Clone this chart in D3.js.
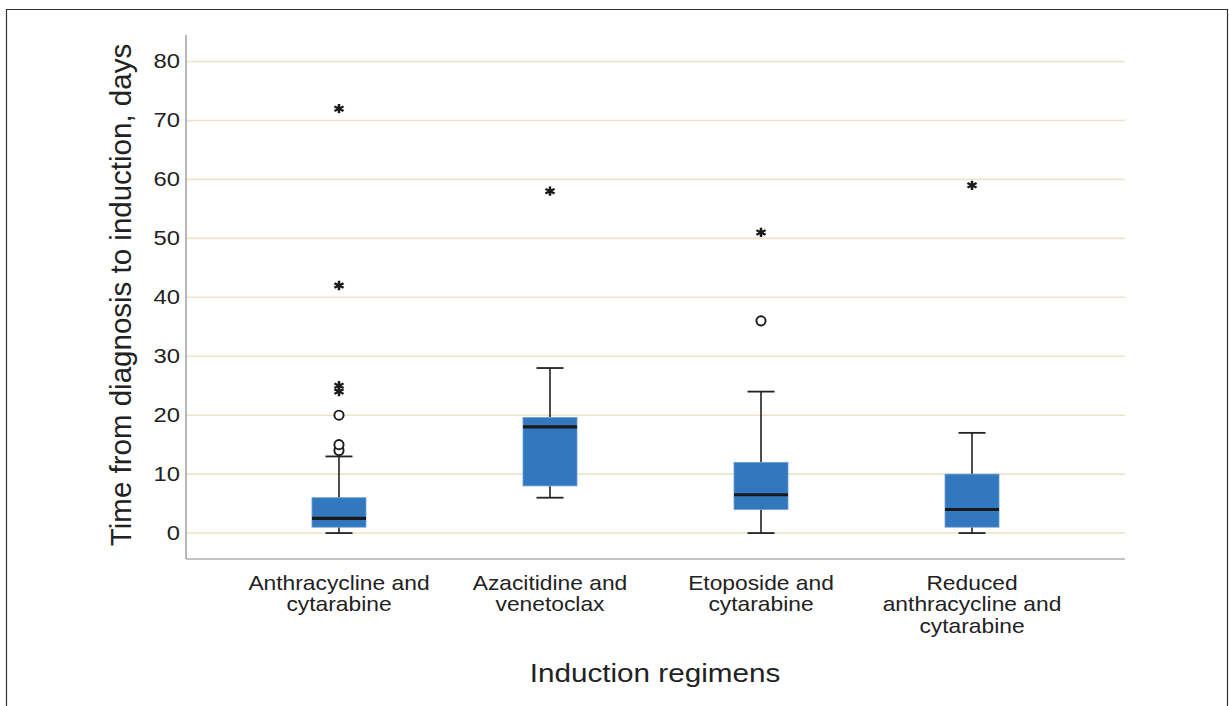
<!DOCTYPE html>
<html>
<head>
<meta charset="utf-8">
<script src="https://cdn.jsdelivr.net/npm/d3@7/dist/d3.min.js"></script>
<style>
  html, body { margin: 0; padding: 0; background: #fff; }
  svg { display: block; font-family: "Liberation Sans", Arial, sans-serif; }
</style>
</head>
<body>
<svg id="chart" width="1229" height="706"></svg>
<script>
// Induction regimens (x categories), each label split into lines
const categories = ["Anthracycline and cytarabine", "Azacitidine and venetoclax", "Etoposide and cytarabine", "Reduced anthracycline and cytarabine"];
const categoryLines = [
  ["Anthracycline and", "cytarabine"],
  ["Azacitidine and", "venetoclax"],
  ["Etoposide and", "cytarabine"],
  ["Reduced", "anthracycline and", "cytarabine"]
];

// Box statistics per regimen (days)
const whiskerLow  = [0, 6, 0, 0];
const q1          = [1, 8, 4, 1];
const median      = [2.5, 18, 6.5, 4];
const q3          = [6, 19.6, 12, 10];
const whiskerHigh = [13, 28, 24, 17];

// Outliers (circles) and extreme values (asterisks)
const outliers = [[14, 15, 20], [], [36], []];
const extremes = [[24, 25, 42, 72], [58], [51], [59]];

const yTicks = [0, 10, 20, 30, 40, 50, 60, 70, 80];

// Horizontal text is set slightly wide
const WIDE = 1.14;

const svg = d3.select("#chart");

// Outer frame
svg.append("path")
  .attr("d", "M6.5,706 V9.5 H1227.5 V706")
  .attr("fill", "none").attr("stroke", "#333").attr("stroke-width", 1.2);

const plot = { left: 186, right: 1125, top: 35, bottom: 559 };

const y = d3.scaleLinear().domain([-4.4, 84.5]).range([plot.bottom, plot.top]);
const x = d3.scalePoint().domain(categories).range([plot.left, plot.right]).padding(0.725);

const boxW = 54, capW = 27;

// Gridlines
svg.append("g").selectAll("line").data(yTicks).join("line")
  .attr("x1", plot.left).attr("x2", plot.right)
  .attr("y1", d => y(d)).attr("y2", d => y(d))
  .attr("stroke", "#ebe5c8").attr("stroke-width", 1.6);

// Y axis
const yAxis = svg.append("g")
  .attr("transform", `translate(${plot.left},0)`)
  .call(d3.axisLeft(y).tickValues(yTicks).tickSize(0).tickPadding(5));
yAxis.select(".domain").attr("stroke", "#8a8a8a").attr("stroke-width", 1.2)
  .attr("d", `M0,${plot.top}V${plot.bottom}`);
yAxis.selectAll(".tick text")
  .attr("font-size", 20).attr("fill", "#222")
  .attr("font-family", "Liberation Sans, Arial, sans-serif")
  .attr("transform", `scale(${WIDE + 0.05},1)`);

// X axis baseline
svg.append("line")
  .attr("x1", plot.left).attr("x2", plot.right)
  .attr("y1", plot.bottom).attr("y2", plot.bottom)
  .attr("stroke", "#8a8a8a").attr("stroke-width", 1.2);

// Category labels
const catG = svg.append("g");
categories.forEach((c, i) => {
  const t = catG.append("text")
    .attr("transform", `translate(${x(c)},589.5) scale(${WIDE},1)`)
    .attr("text-anchor", "middle")
    .attr("font-size", 20).attr("fill", "#222");
  categoryLines[i].forEach((ln, j) => {
    t.append("tspan").attr("x", 0).attr("dy", j === 0 ? 0 : 22).text(ln);
  });
});

// Axis titles
svg.append("text")
  .attr("transform", `translate(655,682) scale(${WIDE - 0.02},1)`)
  .attr("text-anchor", "middle")
  .attr("font-size", 26.5).attr("fill", "#222")
  .text("Induction regimens");

svg.append("text")
  .attr("transform", `translate(131,295) rotate(-90)`)
  .attr("text-anchor", "middle")
  .attr("font-size", 29.5).attr("fill", "#222")
  .text("Time from diagnosis to induction, days");

// Boxes
const boxes = svg.append("g");
categories.forEach((c, i) => {
  const cx = x(c);
  const g = boxes.append("g");
  // whiskers
  g.append("line").attr("x1", cx).attr("x2", cx)
    .attr("y1", y(q3[i])).attr("y2", y(whiskerHigh[i]))
    .attr("stroke", "#222").attr("stroke-width", 1.6);
  g.append("line").attr("x1", cx).attr("x2", cx)
    .attr("y1", y(q1[i])).attr("y2", y(whiskerLow[i]))
    .attr("stroke", "#222").attr("stroke-width", 1.6);
  [whiskerHigh[i], whiskerLow[i]].forEach(v => {
    g.append("line").attr("x1", cx - capW / 2).attr("x2", cx + capW / 2)
      .attr("y1", y(v)).attr("y2", y(v))
      .attr("stroke", "#222").attr("stroke-width", 1.8);
  });
  // box
  g.append("rect")
    .attr("x", cx - boxW / 2).attr("width", boxW)
    .attr("y", y(q3[i])).attr("height", y(q1[i]) - y(q3[i]))
    .attr("fill", "#3278be").attr("stroke", "#6a9fd6").attr("stroke-width", 0.8);
  // median
  g.append("line").attr("x1", cx - boxW / 2).attr("x2", cx + boxW / 2)
    .attr("y1", y(median[i])).attr("y2", y(median[i]))
    .attr("stroke", "#1a1a1a").attr("stroke-width", 3.2);
  // outliers
  g.selectAll("circle").data(outliers[i]).join("circle")
    .attr("cx", cx).attr("cy", d => y(d)).attr("r", 4.6)
    .attr("fill", "#fff").attr("stroke", "#1a1a1a").attr("stroke-width", 1.9);
  // extremes
  g.selectAll("path.ext").data(extremes[i]).join("path")
    .attr("class", "ext")
    .attr("transform", d => `translate(${cx},${y(d)}) scale(${WIDE},1)`)
    .attr("d", d3.symbol(d3.symbolAsterisk, 60)())
    .attr("fill", "none").attr("stroke", "#1a1a1a").attr("stroke-width", 2.2);
});
</script>
</body>
</html>
